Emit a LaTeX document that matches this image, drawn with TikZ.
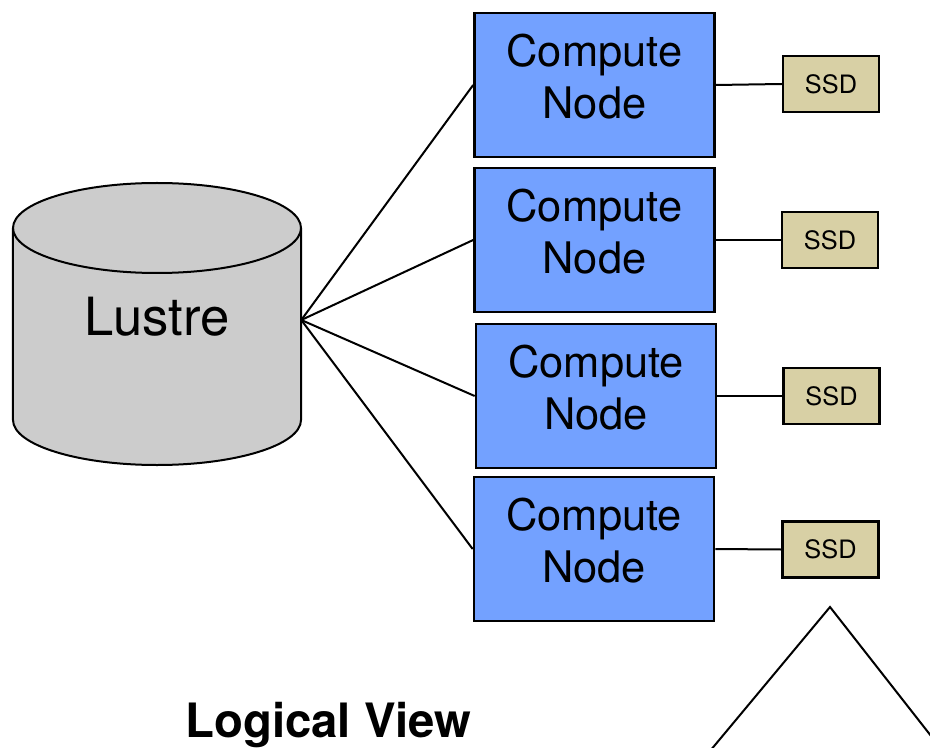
\documentclass[tikz,border=0pt]{standalone}
\usepackage{fontspec}
\setmainfont{TeX Gyre Heros}
\usepackage{tikz}
\usetikzlibrary{calc}
\definecolor{computeblue}{RGB}{115,161,255}
\definecolor{ssdtan}{RGB}{216,208,165}
\definecolor{lustregray}{RGB}{204,204,204}

\begin{document}
\begin{tikzpicture}[x=37.5pt, y=37.5pt,
	computebox/.style={draw, line width=2pt, fill=computeblue, minimum width=180pt, minimum height=108pt, inner sep=0pt, align=center, text depth=12.8pt, font=\fontsize{32.6}{39}\selectfont},
	ssdbox/.style={draw, line width=1.7pt, fill=ssdtan, minimum width=72pt, minimum height=42pt, inner sep=0pt, font=\fontsize{19}{22}\selectfont},
	wire/.style={line width=1.5pt}]
			%%%%% START %%%%%
			\clip (0, 0) rectangle (18.6, 14.94);
			
			\draw[line width=1.5pt, fill=lustregray] (0.26, 10.38) -- (0.26, 6.54) arc (180:360:2.88 and 0.9) -- (6.02, 10.38) arc (0:180:2.88 and 0.9) -- cycle;
			\draw[line width=1.5pt] (0.26, 10.38) arc (180:360:2.88 and 0.9);
			\node[minimum width=216pt, inner sep=0pt, text depth=6pt, font=\fontsize{39.5}{44}\selectfont] (lustre) at (3.14, 8.54) {Lustre};
			
			\node[computebox] (cn1) at (11.89, 13.24) {Compute\\Node};
			\node[computebox] (cn2) at (11.89, 10.14) {Compute\\Node};
			\node[computebox] (cn3) at (11.92, 7.02) {Compute\\Node};
			\node[computebox] (cn4) at (11.88, 3.96) {Compute\\Node};
			
			\node[ssdbox] (ssd1) at (16.62, 13.26) {SSD};
			\node[ssdbox] (ssd2) at (16.60, 10.14) {SSD};
			\node[ssdbox] (ssd3) at (16.63, 7.02) {SSD};
			\node[ssdbox] (ssd4) at (16.61, 3.95) {SSD};
			
			\draw[wire] (lustre.east) -- (cn1.west);
			\draw[wire] (lustre.east) -- (cn2.west);
			\draw[wire] (lustre.east) -- (cn3.west);
			\draw[wire] (lustre.east) -- (cn4.west);
			
			\draw[wire] (cn1.east) -- (ssd1.west);
			\draw[wire] (cn2.east) -- (ssd2.west);
			\draw[wire] (cn3.east) -- (ssd3.west);
			\draw[wire] (cn4.east) -- (ssd4.west);
			
			\coordinate (peak) at (16.6, 2.8);
			\draw[wire] (14.1, -0.2) -- (peak) -- (18.95, -0.2);
			
			\node[anchor=base, font=\fontsize{35.5}{40}\selectfont\bfseries] (title) at (6.57, 0.2) {Logical View};
			%%%%% END %%%%%
\end{tikzpicture}
\end{document}
